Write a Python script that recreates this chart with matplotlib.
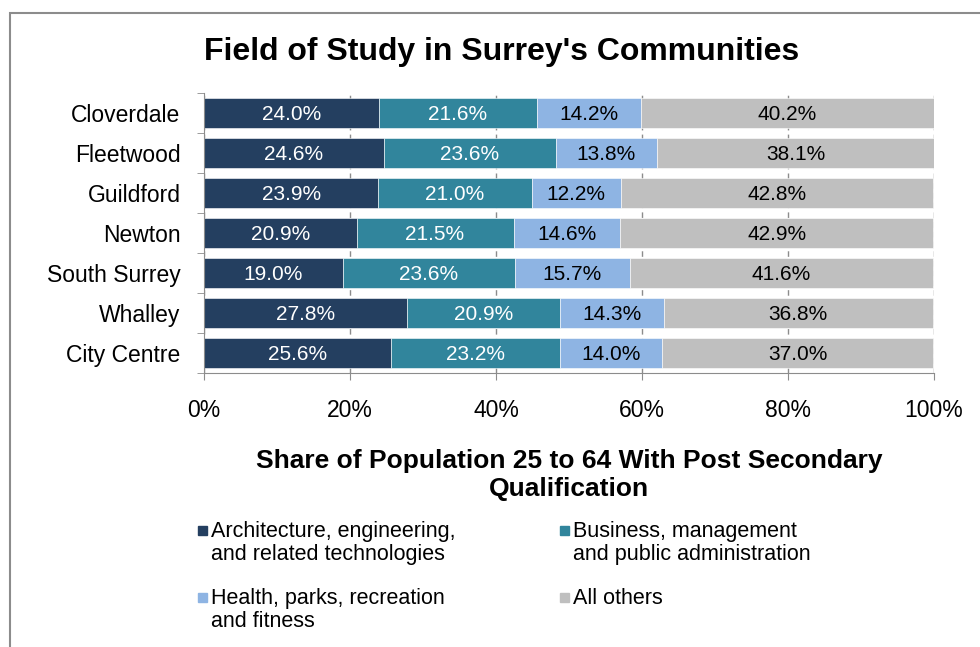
import matplotlib
matplotlib.use("Agg")
import matplotlib.pyplot as plt
from matplotlib.patches import Rectangle
import numpy as np

plt.rcParams["font.family"] = ["Liberation Sans", "DejaVu Sans"]

communities = ["Cloverdale", "Fleetwood", "Guildford", "Newton",
               "South Surrey", "Whalley", "City Centre"]
architecture = [24.0, 24.6, 23.9, 20.9, 19.0, 27.8, 25.6]
business = [21.6, 23.6, 21.0, 21.5, 23.6, 20.9, 23.2]
health = [14.2, 13.8, 12.2, 14.6, 15.7, 14.3, 14.0]
others = [40.2, 38.1, 42.8, 42.9, 41.6, 36.8, 37.0]
series_names = ["Architecture, engineering,\nand related technologies",
                "Business, management\nand public administration",
                "Health, parks, recreation\nand fitness",
                "All others"]
x_ticks = [0, 20, 40, 60, 80, 100]

colors = ["#243F60", "#31859C", "#8EB4E3", "#BFBFBF"]
text_colors = ["white", "white", "black", "black"]

W, H = 980, 647
fig = plt.figure(figsize=(W / 100, H / 100), dpi=100)

# outer chart frame (runs off the right and bottom edges)
fig.add_artist(Rectangle((10 / W, -0.1), 1.2, 1.1 - 13 / H,
                         transform=fig.transFigure, fill=False,
                         edgecolor="#8C8C8C", lw=1.5, clip_on=False))

ax = fig.add_axes([204 / W, 1 - 373 / H, 730 / W, 280 / H])
y = np.arange(len(communities))
left = np.zeros(len(communities))
for vals, col, tcol in zip([architecture, business, health, others],
                           colors, text_colors):
    vals = np.array(vals)
    ax.barh(y, vals, left=left, height=0.75, color=col,
            edgecolor="white", lw=0.4, zorder=2)
    for yi, l, v in zip(y, left, vals):
        ax.text(l + v / 2, yi, f"{v:.1f}%", ha="center",
                va="center_baseline", color=tcol, fontsize=15, zorder=3)
    left += vals

ax.set_xlim(0, 100)
ax.set_ylim(len(communities) - 0.5, -0.5)
ax.set_xticks(x_ticks)
ax.set_xticklabels([f"{t}%" for t in x_ticks], fontsize=16.5)
ax.set_yticks(y)
ax.set_yticklabels(communities, fontsize=16.5)
ax.set_yticks(np.arange(-0.5, len(communities)), minor=True)
ax.tick_params(axis="y", which="major", length=0, pad=17)
ax.tick_params(axis="y", which="minor", length=5, color="#8C8C8C")
ax.tick_params(axis="x", length=5, color="#8C8C8C", pad=14)
for s in ["top", "right"]:
    ax.spines[s].set_visible(False)
for s in ["left", "bottom"]:
    ax.spines[s].set_color("#8C8C8C")
ax.xaxis.grid(True, ls=(0, (4, 3)), color="#8C8C8C", lw=1, zorder=0)
ax.set_axisbelow(True)

fig.text(502 / W, 1 - 52 / H, "Field of Study in Surrey's Communities",
         ha="center", va="center", fontsize=23, fontweight="bold")
fig.text(569 / W, 1 - 475 / H,
         "Share of Population 25 to 64 With Post Secondary\nQualification",
         ha="center", va="center", fontsize=19, fontweight="bold",
         linespacing=1.25)

# legend laid out by hand, two columns
leg_pos = [(203, 530), (565, 530), (203, 597), (565, 597)]
for (lx, ly), name, col in zip(leg_pos, series_names, colors):
    fig.add_artist(Rectangle(((lx - 5) / W, 1 - (ly + 5) / H), 9 / W, 9 / H,
                             transform=fig.transFigure, color=col))
    fig.text((lx + 8) / W, 1 - (ly - 9) / H, name, ha="left", va="top",
             fontsize=15.5, linespacing=1.1)

fig.savefig("out.png", dpi=100)
